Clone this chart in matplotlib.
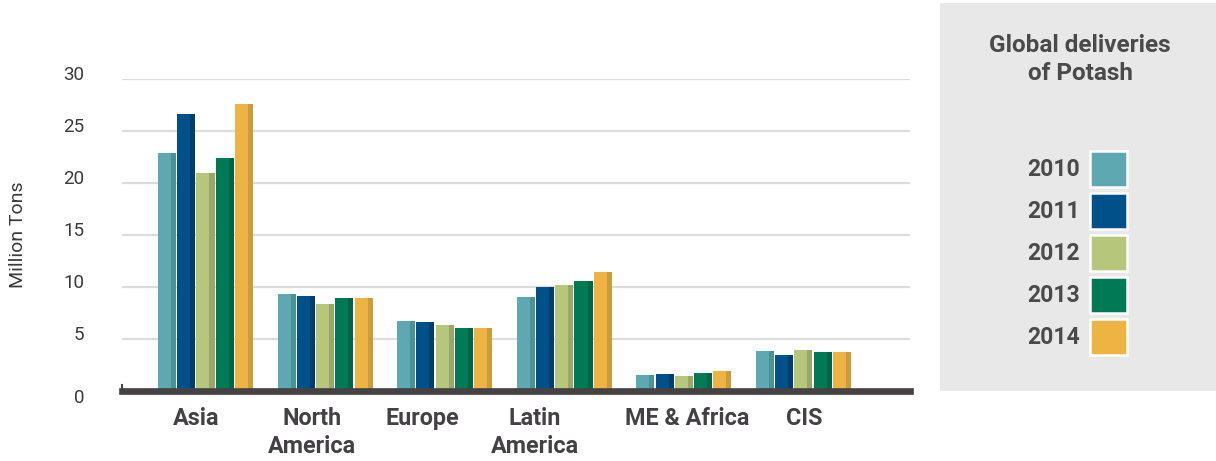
import matplotlib
matplotlib.use("Agg")
import matplotlib.pyplot as plt
import matplotlib.transforms as mtransforms
from matplotlib.patches import Rectangle
import numpy as np

regions = ["Asia", "North\nAmerica", "Europe", "Latin\nAmerica", "ME & Africa", "CIS"]
years = ["2010", "2011", "2012", "2013", "2014"]
v2010 = [22.9, 9.3, 6.7, 9.0, 1.5, 3.8]
v2011 = [26.6, 9.1, 6.6, 10.0, 1.6, 3.4]
v2012 = [21.0, 8.3, 6.3, 10.2, 1.4, 3.9]
v2013 = [22.4, 8.9, 6.0, 10.6, 1.7, 3.7]
v2014 = [27.6, 8.9, 6.0, 11.4, 1.9, 3.7]
series = [v2010, v2011, v2012, v2013, v2014]
yticks = [0, 5, 10, 15, 20, 25, 30]

colors = ["#5da8b1", "#00508a", "#b6c67a", "#007a55", "#edb443"]
shades = ["#4a9198", "#003e6e", "#99a86a", "#006446", "#c99c3c"]
label_shift = [-0.08, -0.11, -0.19, -0.245, 0.03, 0.01]

W, H = 1216, 461
fig = plt.figure(figsize=(W / 100, H / 100), dpi=100)
fig.patch.set_facecolor("white")

ax = fig.add_axes([122 / W, (H - 390.7) / H, (910 - 122) / W, (390.7 - 79) / H])
ax.set_facecolor("white")

x = np.arange(len(regions))
pitch = 0.161
bw = 0.151
sw = 0.042
for i, vals in enumerate(series):
    xs = x + (i - 2) * pitch
    ax.bar(xs, vals, width=bw, color=colors[i], zorder=3, linewidth=0)
    ax.bar(xs + bw / 2 - sw / 2, vals, width=sw, color=shades[i], zorder=3.5, linewidth=0)

ax.set_xlim(-0.698, 5.891)
ax.set_ylim(0, 30)
for t in yticks[1:]:
    ax.axhline(t, color="#dcdcdc", linewidth=1.6, zorder=1)
ax.axhline(0, color="#454243", linewidth=4.8, zorder=5, clip_on=False)
ax.plot([-0.698, -0.698], [0, 0.55], color="#454243", linewidth=1.5, zorder=5, clip_on=False)

for s in ax.spines.values():
    s.set_visible(False)
ax.set_xticks([])
ax.set_yticks(yticks)
ax.set_yticklabels([str(t) for t in yticks], fontsize=13.5, color="#3a3a3a", family="Roboto")
ax.tick_params(axis="y", length=0, pad=27)
for tk, val in zip(ax.yaxis.get_major_ticks(), yticks):
    dy = -5 / 72 if val == 0 else 6 / 72
    off = mtransforms.ScaledTranslation(0, dy * 72 / 100, fig.dpi_scale_trans)
    tk.label1.set_transform(tk.label1.get_transform() + off)
ax.set_ylabel("Million Tons", fontsize=14, color="#3a3a3a", family="Roboto", labelpad=26)

for i, r in enumerate(regions):
    ax.text(x[i] + label_shift[i], -1.55, r, ha="center", va="top", fontsize=16.8,
            fontweight="bold", color="#434143", family="Roboto", linespacing=1.3)

# legend panel
fig.patches.append(Rectangle((940 / W, (H - 391) / H), (W - 940) / W, (391 - 3) / H,
                             transform=fig.transFigure, facecolor="#e8e8e8",
                             edgecolor="none", zorder=0))
fig.text(1080 / W, (H - 59.5) / H, "Global deliveries\nof Potash", ha="center", va="center",
         fontsize=17.5, fontweight="bold", color="#4a4a4a", family="Roboto", linespacing=1.3)
for i, y in enumerate(years):
    cy = 169 + 42 * i
    fig.text(1080 / W, (H - cy) / H, y, ha="right", va="center", fontsize=16.6,
             fontweight="bold", color="#4a4a4a", family="Roboto")
    fig.patches.append(Rectangle((1090 / W, (H - cy - 18) / H), 37 / W, 36 / H,
                                 transform=fig.transFigure, facecolor=colors[i],
                                 edgecolor="white", linewidth=1.8, zorder=1))

fig.savefig("out.png", dpi=100)
